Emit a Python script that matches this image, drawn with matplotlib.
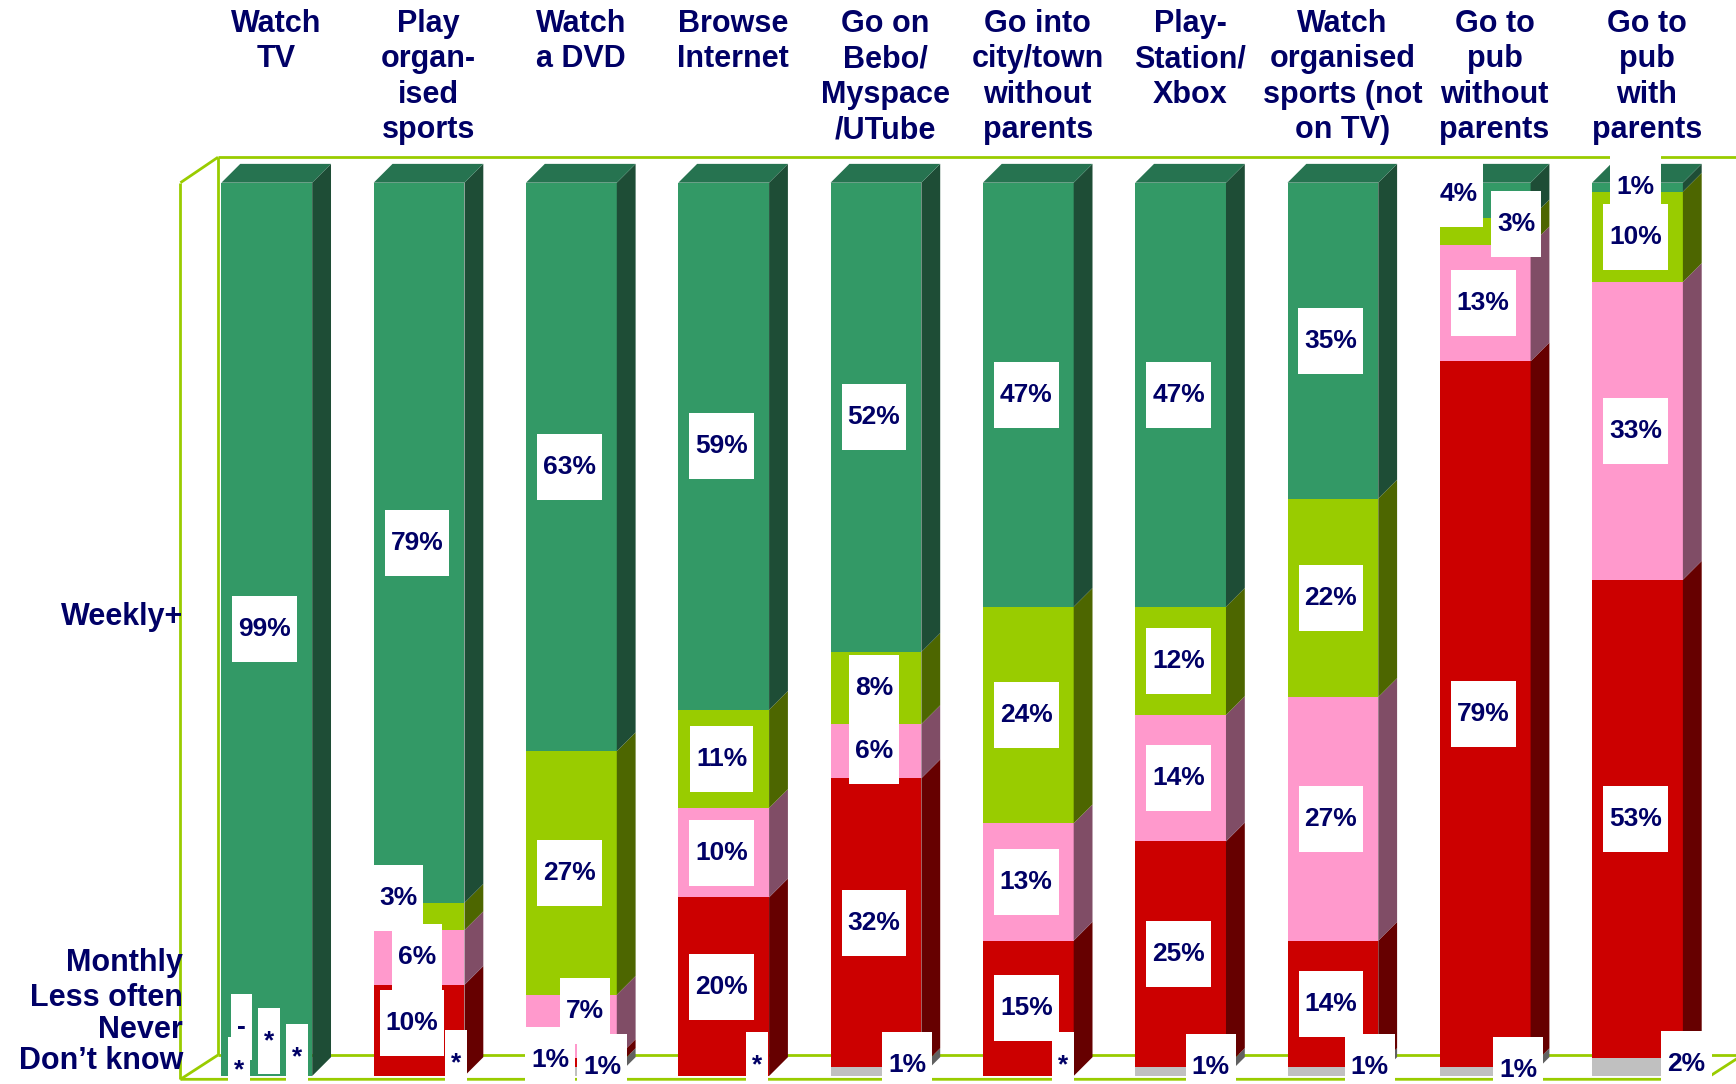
import matplotlib
matplotlib.use("Agg")
import matplotlib.pyplot as plt
from matplotlib.patches import Polygon, Rectangle
import numpy as np

plt.rcParams['font.family'] = ['Liberation Sans', 'DejaVu Sans']

# Daten (von unten nach oben gestapelt)
kategorien = ["Watch\nTV", "Play\norgan-\nised\nsports", "Watch\na DVD", "Browse\nInternet",
              "Go on\nBebo/\nMyspace\n/UTube", "Go into\ncity/town\nwithout\nparents",
              "Play-\nStation/\nXbox", "Watch\norganised\nsports (not\non TV)",
              "Go to\npub\nwithout\nparents", "Go to\npub\nwith\nparents"]
serien = ["Don\u2019t know", "Never", "Less often", "Monthly", "Weekly+"]

dont_know  = [0, 0, 1, 0, 1, 0, 1, 1, 1, 2]
never      = [0, 10, 1, 20, 32, 15, 25, 14, 79, 53]
less_often = [0, 6, 7, 10, 6, 13, 14, 27, 13, 33]
monthly    = [0, 3, 27, 11, 8, 24, 12, 22, 3, 10]
weekly     = [99, 79, 63, 59, 52, 47, 47, 35, 4, 1]

# Beschriftungen fuer Werte unter 0.5% ("*") bzw. keine Nennung ("-")
sonder_txt = {(0, 0): "*", (0, 1): "*", (0, 2): "*", (0, 3): "-",
              (1, 0): "*", (3, 0): "*", (5, 0): "*"}

# Farben: Vorderseite, Seite
farben = ["#c0c0c0", "#cc0000", "#ff99cc", "#99cc00", "#339966"]
seiten = ["#606060", "#660000", "#804d66", "#4d6600", "#1e4d36"]
deckel = "#267350"
navy = "#000066"
rahmen = "#99cc00"

# Label-Verschiebungen in Pixeln (dx, nach oben)
versatz = {(0, 3): (-25, 49), (0, 2): (2, 35), (0, 1): (30, 19), (0, 0): (-28, 6),
           (1, 3): (-21, 18), (1, 1): (-7, 7), (1, 0): (37, 13),
           (2, 2): (14, 15), (2, 1): (-21, 2), (2, 0): (31, 4),
           (3, 0): (33, 11), (4, 0): (31, 6), (5, 0): (35, 11), (6, 0): (30, 4),
           (7, 0): (37, 4), (8, 4): (-27, 7), (8, 3): (31, 8), (8, 0): (33, 2),
           (9, 0): (49, 3)}

werte = np.array([dont_know, never, less_often, monthly, weekly], dtype=float)
anteile = werte / werte.sum(axis=0) * 100   # 100%-Stapel

W, H = 1736, 1084
fig = plt.figure(figsize=(W / 100, H / 100), dpi=100)
ax = fig.add_axes([0, 0, 1, 1])
ax.set_xlim(-1.7518, 9.6468)
ax.set_ylim(-0.8956, 120.45)
ax.axis("off")

breite = 0.596
tx, ty = 0.1236, 2.105   # Tiefe der Saeulen

# Rahmen (Wand + Boden)
lk = dict(color=rahmen, lw=2.0, zorder=1, solid_capstyle="butt")
bx, fx = -0.3204, -0.567
ax.plot([bx, 9.8], [102.85, 102.85], **lk)
ax.plot([bx, bx], [102.85, 2.35], **lk)
ax.plot([fx, fx], [100.0, -0.37], **lk)
ax.plot([fx, bx], [100.0, 102.85], **lk)
ax.plot([fx, bx], [-0.37, 2.35], **lk)
ax.plot([bx, 9.8], [2.35, 2.35], **lk)
ax.plot([fx, 9.443, 9.69], [-0.37, -0.37, 2.35], **lk)

x = np.arange(len(kategorien))
unten = np.zeros(len(kategorien))
for s in range(len(serien)):
    h = anteile[s]
    ax.bar(x, h, breite, bottom=unten, color=farben[s], zorder=2, linewidth=0)
    for i in range(len(x)):
        if h[i] <= 0:
            continue
        r = x[i] + breite / 2
        y0, y1 = unten[i], unten[i] + h[i]
        ax.add_patch(Polygon([(r, y0), (r + tx, y0 + ty), (r + tx, y1 + ty), (r, y1)],
                             closed=True, facecolor=seiten[s], lw=0, zorder=2))
    unten = unten + h

for i in range(len(x)):
    l, r = x[i] - breite / 2, x[i] + breite / 2
    ax.add_patch(Polygon([(l, 100), (r, 100), (r + tx, 100 + ty), (l + tx, 100 + ty)],
                         closed=True, facecolor=deckel, lw=0, zorder=2))

# Wert-Beschriftungen
texte = []
unten = np.zeros(len(kategorien))
for s in range(len(serien)):
    for i in range(len(x)):
        v = werte[s, i]
        if (i, s) in sonder_txt:
            t = sonder_txt[(i, s)]
        elif v > 0:
            t = f"{int(v)}%"
        else:
            continue
        mitte = unten[i] + anteile[s, i] / 2
        dx, dy = versatz.get((i, s), (-2, 0))
        a = ax.annotate(t, (x[i], mitte), xytext=(dx, dy), textcoords="offset pixels",
                        ha="center", va="center", fontsize=19, fontweight="bold",
                        color=navy, zorder=6)
        texte.append(a)
    unten = unten + anteile[s]

fig.canvas.draw()
inv = ax.transData.inverted()
for a in texte:
    bb = a.get_window_extent()
    cx, cy = (bb.x0 + bb.x1) / 2, (bb.y0 + bb.y1) / 2
    w, hh = bb.width + 12, 66
    p0 = inv.transform((cx - w / 2, cy - hh / 2))
    p1 = inv.transform((cx + w / 2, cy + hh / 2))
    ax.add_patch(Rectangle(p0, p1[0] - p0[0], p1[1] - p0[1], facecolor="white",
                           lw=0, zorder=5))

# Kategorien oben
for i, k in enumerate(kategorien):
    ax.text(x[i] + tx / 2, 119.45, k, ha="center", va="top", fontsize=22,
            fontweight="bold", color=navy, linespacing=1.24, zorder=6)

# Legende links
for name, ypx in zip(["Weekly+", "Monthly", "Less often", "Never", "Don\u2019t know"],
                     [617, 963, 998, 1030, 1061]):
    fig.text(183 / W, 1 - ypx / H, name, ha="right", va="center", fontsize=22,
             fontweight="bold", color=navy, zorder=6)

fig.savefig("out.png", dpi=100)
